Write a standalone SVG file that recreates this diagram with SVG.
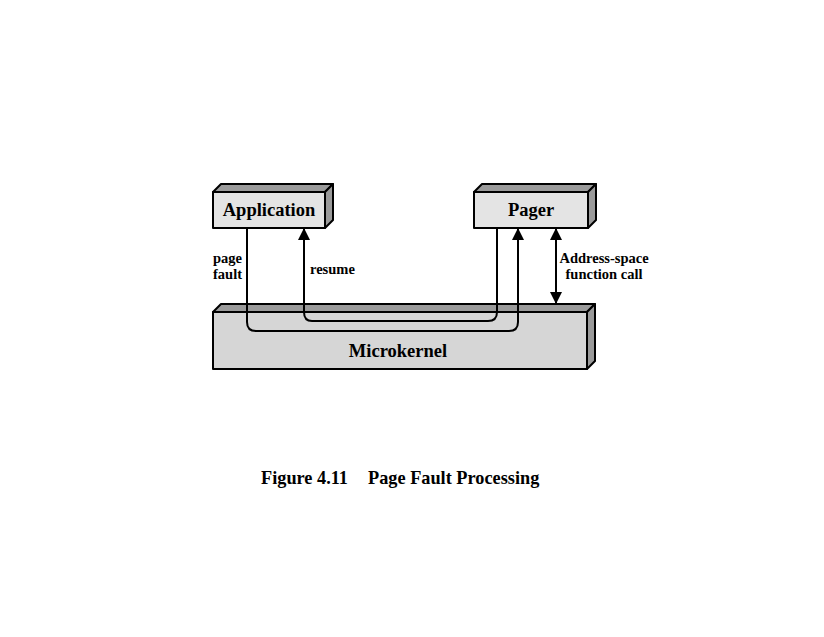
<svg xmlns="http://www.w3.org/2000/svg" width="824" height="637" viewBox="0 0 824 637">
<style>
.front{fill:#e4e4e4;stroke:#000;stroke-width:2;stroke-linejoin:round}
.mk{fill:#d6d6d6;stroke:#000;stroke-width:2;stroke-linejoin:round}
.side{fill:#9a9a9a;stroke:#000;stroke-width:2;stroke-linejoin:round}
.t{font-family:"Liberation Serif",serif;font-weight:bold;fill:#000}
.lbl{font-size:14.5px}
.box{font-size:18.5px}
.cap{font-size:18.3px}
.wire{fill:none;stroke:#000;stroke-width:2}
</style>
<defs>
<marker id="arr" viewBox="0 0 12 12" refX="11" refY="6" markerWidth="12" markerHeight="12" orient="auto-start-reverse" markerUnits="userSpaceOnUse">
<path d="M0,0 L12,6 L0,12 z" fill="#000"/>
</marker>
</defs>
<rect width="824" height="637" fill="#fff"/>
<g id="microkernel">
<polygon class="side" points="213,312 221,304 595,304 587,312"/>
<polygon class="side" points="587,312 595,304 595,361 587,369"/>
<rect class="mk" x="213" y="312" width="374" height="57"/>
<text class="t box" x="398" y="357" text-anchor="middle">Microkernel</text>
</g>
<g id="application">
<polygon class="side" points="213,192 221,184 333,184 325,192"/>
<polygon class="side" points="325,192 333,184 333,220 325,228"/>
<rect class="front" x="213" y="192" width="112" height="36"/>
<text class="t box" x="269" y="216" text-anchor="middle">Application</text>
</g>
<g id="pager">
<polygon class="side" points="474,192 482,184 596,184 588,192"/>
<polygon class="side" points="588,192 596,184 596,220 588,228"/>
<rect class="front" x="474" y="192" width="114" height="36"/>
<text class="t box" x="531" y="216" text-anchor="middle">Pager</text>
</g>
<g id="connectors">
<path class="wire" d="M247,228 V322 Q247,331 256,331 H509 Q518,331 518,322 V229" marker-end="url(#arr)"/>
<path class="wire" d="M497,228 V312 Q497,321 488,321 H312 Q304,321 304,312 V229" marker-end="url(#arr)"/>
<path class="wire" d="M556,229 V303" marker-start="url(#arr)" marker-end="url(#arr)"/>
</g>
<g id="labels">
<text class="t lbl" x="213" y="263">page</text>
<text class="t lbl" x="213" y="279">fault</text>
<text class="t lbl" x="310" y="274">resume</text>
<text class="t lbl" x="604" y="263" text-anchor="middle">Address-space</text>
<text class="t lbl" x="604" y="279" text-anchor="middle">function call</text>
</g>
<text class="t cap" x="261" y="484">Figure 4.11</text>
<text class="t cap" x="368" y="484">Page Fault Processing</text>
</svg>
